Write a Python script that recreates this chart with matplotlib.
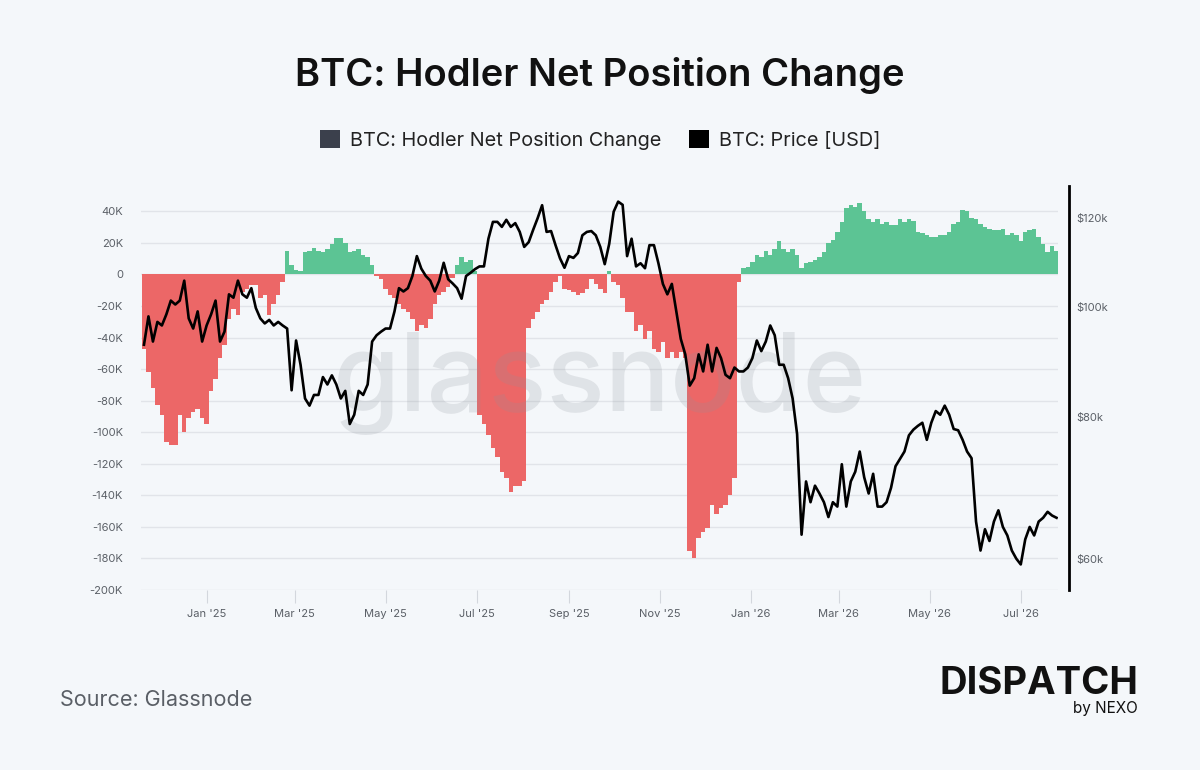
import numpy as np
import pandas as pd
import matplotlib
matplotlib.use("Agg")
import matplotlib.pyplot as plt
import matplotlib.dates as mdates
from matplotlib.patches import Patch
from matplotlib.ticker import FixedLocator, FuncFormatter, NullLocator

plt.rcParams['font.family'] = ['Inter', 'DejaVu Sans']

# 3-day samples, starting 2024-11-20
dates = pd.date_range('2024-11-20', periods=205, freq='3D')

# Hodler net position change, thousands of BTC
net_k = [
    -47, -62, -72, -83, -89, -106, -108, -108, -89, -100,
    -91, -87, -85, -91, -95, -74, -66, -53, -45, -28,
    -22, -26, -11, -9, -7, -7, -15, -13, -26, -19,
    -13, -5, 15, 6, 3, 2, 14, 15, 17, 15,
    14, 16, 19, 23, 23, 20, 14, 15, 16, 12,
    11, 6, -1, -3, -9, -13, -15, -19, -22, -24,
    -28, -36, -32, -34, -28, -19, -13, -11, -8, -2,
    6, 11, 8, 9, 2, -89, -95, -102, -110, -116,
    -125, -129, -138, -134, -134, -131, -34, -28, -24, -19,
    -16, -11, -5, -1, -9, -10, -11, -13, -12, -9,
    -3, -6, -9, -12, 2, -5, -7, -15, -24, -24,
    -36, -32, -41, -36, -47, -49, -43, -53, -49, -53,
    -49, -53, -175, -180, -167, -163, -161, -146, -152, -148,
    -146, -140, -129, -5, 4, 5, 8, 12, 11, 15,
    12, 16, 21, 16, 14, 16, 12, 4, 7, 8,
    9, 11, 14, 20, 22, 27, 33, 42, 44, 43,
    45, 40, 35, 33, 35, 32, 33, 31, 31, 35,
    33, 35, 34, 27, 26, 25, 24, 24, 25, 25,
    27, 32, 33, 41, 40, 36, 35, 32, 30, 29,
    28, 28, 29, 25, 26, 25, 21, 27, 28, 29,
    24, 19, 14, 18, 15,
]

# BTC price, thousands of USD
price_k = [
    92.7, 98.2, 93.3, 97.1, 96.4, 98.6, 101.4, 100.6, 101.4, 105.6,
    97.8, 95.8, 99.2, 93.3, 96.4, 98.6, 101.4, 93.3, 95.2, 102.7,
    102.0, 105.6, 102.7, 102.0, 104.0, 99.9, 97.8, 96.8, 97.5, 96.4,
    97.1, 96.4, 95.8, 84.5, 93.5, 89.0, 83.1, 81.9, 83.7, 83.7,
    86.8, 85.5, 87.1, 85.5, 83.1, 84.4, 78.9, 80.4, 84.4, 83.7,
    85.5, 93.3, 94.5, 95.2, 95.8, 95.8, 99.2, 104.0, 103.3, 104.0,
    106.6, 111.0, 108.2, 106.6, 105.6, 103.3, 105.6, 109.5, 105.9, 105.0,
    104.0, 101.8, 106.6, 107.3, 108.1, 108.7, 108.7, 115.0, 119.0, 119.0,
    117.8, 119.5, 117.8, 118.7, 116.6, 113.1, 114.2, 117.1, 119.9, 123.1,
    116.6, 116.8, 113.5, 110.5, 108.4, 111.0, 110.6, 111.7, 115.8, 116.6,
    116.8, 115.8, 113.1, 109.2, 113.8, 121.5, 124.0, 123.2, 111.0, 115.0,
    108.7, 109.4, 108.3, 113.5, 113.5, 109.4, 104.9, 102.7, 104.9, 99.2,
    93.8, 90.9, 85.3, 86.6, 90.9, 87.8, 92.7, 87.8, 92.1, 90.2,
    87.2, 86.6, 88.5, 87.8, 87.8, 88.5, 90.2, 93.5, 91.5, 93.3,
    96.4, 94.5, 89.0, 89.0, 86.6, 83.1, 77.3, 63.0, 70.2, 67.3,
    69.6, 68.5, 67.3, 65.3, 67.3, 66.7, 72.7, 66.7, 70.2, 71.6,
    74.6, 70.8, 68.5, 71.3, 66.7, 66.7, 67.3, 69.3, 72.4, 73.5,
    74.6, 77.1, 78.0, 78.6, 79.1, 76.4, 79.1, 81.0, 80.4, 81.9,
    80.4, 78.1, 77.9, 76.4, 74.6, 73.6, 64.7, 61.0, 63.7, 62.2,
    64.7, 66.2, 64.0, 62.9, 61.0, 60.0, 59.3, 62.4, 64.0, 62.9,
    64.7, 65.2, 66.0, 65.5, 65.2,
]

left_ticks = list(range(-200000, 40001, 20000))
right_ticks = [60000, 80000, 100000, 120000]

BG = '#f4f7fa'
RED = '#ec6767'
GREEN = '#5cc494'
GREY = '#5a5f66'

net = np.array(net_k) * 1000
price = np.array(price_k) * 1000

fig = plt.figure(figsize=(12, 7.7), dpi=100, facecolor=BG)
ax = fig.add_axes([0.1175, 0.2338, 0.7642, 0.5246], facecolor=BG)

colors = np.where(net >= 0, GREEN, RED)
ax.bar(dates, net, width=3.0, color=colors, linewidth=0, zorder=2)
ax.set_ylim(-200000, 56000)
ax.set_yticks(left_ticks)
ax.yaxis.set_major_formatter(FuncFormatter(lambda v, p: '0' if v == 0 else f'{v/1000:.0f}K'))
ax.grid(axis='y', color='#e1e4e9', lw=1)
ax.set_axisbelow(True)
for s in ax.spines.values():
    s.set_visible(False)
ax.tick_params(axis='y', length=0, pad=13, labelsize=8, labelcolor=GREY)

ax.xaxis.set_major_locator(mdates.MonthLocator(bymonth=[1, 3, 5, 7, 9, 11]))
ax.xaxis.set_major_formatter(mdates.DateFormatter("%b '%y"))
ax.tick_params(axis='x', length=9, color='#d3d7dd', pad=5, labelsize=8, labelcolor=GREY)
xmin, xmax = pd.Timestamp('2024-11-18'), pd.Timestamp('2026-07-26')
ax.set_xlim(xmin, xmax)

ax.text(0.5, 0.51, 'glassnode', transform=ax.transAxes, ha='center', va='center',
        fontsize=78, color='#8e949c', alpha=0.2, zorder=3, fontweight='medium')

ax2 = ax.twinx()
ax2.plot(dates, price, color='black', lw=1.9, zorder=5)
ax2.set_yscale('log')
ax2.set_ylim(56300, 128000)
ax2.yaxis.set_major_locator(FixedLocator(right_ticks))
ax2.yaxis.set_minor_locator(NullLocator())
ax2.yaxis.set_major_formatter(FuncFormatter(lambda v, p: f'${v/1000:.0f}k'))
for name, s in ax2.spines.items():
    s.set_visible(name == 'right')
ax2.spines['right'].set_position(('outward', 8))
ax2.spines['right'].set_color('black')
ax2.spines['right'].set_linewidth(2)
ax2.tick_params(axis='y', length=0, pad=5, labelsize=8, labelcolor=GREY)
ax2.set_xlim(xmin, xmax)

fig.text(0.5, 1 - 76 / 770, 'BTC: Hodler Net Position Change', ha='center', va='center',
         fontsize=27.5, fontweight='semibold', color='#111111')

handles = [Patch(facecolor='#3b404c', label='BTC: Hodler Net Position Change'),
           Patch(facecolor='black', label='BTC: Price [USD]')]
fig.legend(handles=handles, loc='center', bbox_to_anchor=(0.5, 1 - 140 / 770), ncol=2,
           frameon=False, fontsize=14.3, handlelength=1.0, handleheight=1.0,
           columnspacing=1.4, handletextpad=0.5, labelcolor='#222222')

fig.text(60 / 1200, 1 - 700 / 770, 'Source: Glassnode', ha='left', va='center',
         fontsize=15.5, color=GREY)
fig.text(1138 / 1200, 1 - 684 / 770, 'DISPATCH', ha='right', va='center',
         fontsize=27.5, fontweight='bold', color='#111111')
fig.text(1138 / 1200, 1 - 709 / 770, 'by NEXO', ha='right', va='center',
         fontsize=11, color='#111111')

fig.savefig('out.png', dpi=100, facecolor=BG)
